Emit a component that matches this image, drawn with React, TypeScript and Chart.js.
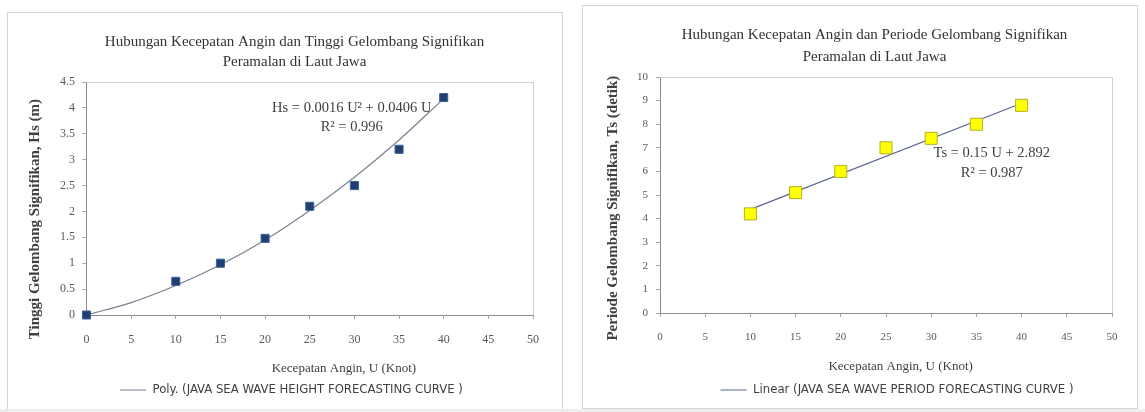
import React, { useEffect, useRef } from "react";
import { Chart, registerables } from "chart.js";

Chart.register(...registerables);

// ---------------- data ----------------
const heightSpeeds = [0, 10, 15, 20, 25, 30, 35, 40];
const heightValues = [0, 0.65, 1.0, 1.48, 2.1, 2.5, 3.2, 4.2];
const heightCurveSpeeds = [0, 5, 10, 15, 20, 25, 30, 35, 40];
const heightCurveValues = [0, 0.24, 0.57, 0.97, 1.45, 2.02, 2.66, 3.38, 4.18];

const periodSpeeds = [10, 15, 20, 25, 30, 35, 40];
const periodValues = [4.2, 5.1, 6.0, 7.0, 7.4, 8.0, 8.8];
const periodLineSpeeds = [10, 40];
const periodLineValues = [4.39, 8.89];

const speedTicks = [0, 5, 10, 15, 20, 25, 30, 35, 40, 45, 50];
const heightTicks = [0, 0.5, 1, 1.5, 2, 2.5, 3, 3.5, 4, 4.5];
const periodTicks = [0, 1, 2, 3, 4, 5, 6, 7, 8, 9, 10];

const heightTitle = ["Hubungan Kecepatan Angin dan Tinggi Gelombang Signifikan", "Peramalan di Laut Jawa"];
const periodTitle = ["Hubungan Kecepatan Angin dan Periode Gelombang Signifikan", "Peramalan di Laut Jawa"];
const speedAxisTitle = "Kecepatan Angin, U (Knot)";
const heightAxisTitle = "Tinggi Gelombang Signifikan, Hs (m)";
const periodAxisTitle = "Periode Gelombang Signifikan, Ts (detik)";
const heightMarkersLabel = "JAVA SEA WAVE HEIGHT FORECASTING CURVE";
const heightTrendLabel = "Poly. (JAVA SEA WAVE HEIGHT FORECASTING CURVE )";
const periodMarkersLabel = "JAVA SEA WAVE PERIOD FORECASTING CURVE";
const periodTrendLabel = "Linear (JAVA SEA WAVE PERIOD FORECASTING CURVE )";
const heightEquation = ["Hs = 0.0016 U² + 0.0406 U", "R² = 0.996"];
const periodEquation = ["Ts = 0.15 U + 2.892", "R² = 0.987"];

// ---------------- styling ----------------
const SERIF = "'Liberation Serif', 'Times New Roman', serif";
const SANS_COND = "'DejaVu Sans Condensed', 'Liberation Sans Narrow', 'DejaVu Sans', sans-serif";

const toPoints = (xs: number[], ys: number[]) => xs.map((x, i) => ({ x, y: ys[i] }));
const sp = (n: number) => " ".repeat(n);

const framePlugin = {
  id: "plotFrame",
  afterDraw(chart: any, _args: any, opts: any) {
    const { ctx, chartArea: a } = chart;
    ctx.save();
    ctx.strokeStyle = opts.color || "#d0d0d0";
    ctx.lineWidth = 1;
    ctx.beginPath();
    ctx.moveTo(a.left, Math.round(a.top) + 0.5);
    ctx.lineTo(Math.round(a.right) + 0.5, Math.round(a.top) + 0.5);
    ctx.lineTo(Math.round(a.right) + 0.5, a.bottom);
    ctx.stroke();
    ctx.restore();
  },
};

const legendShiftPlugin = {
  id: "legendShift",
  afterLayout(chart: any, _args: any, opts: any) {
    const lg = chart.legend;
    if (!lg || !opts || !opts.dx) return;
    lg.left += opts.dx;
    lg.right += opts.dx;
  },
};

const equationPlugin = {
  id: "equationLabel",
  afterDatasetsDraw(chart: any, _args: any, opts: any) {
    if (!opts || !opts.lines) return;
    const { ctx, scales } = chart;
    const x = scales.x.getPixelForValue(opts.at[0]);
    const y = scales.y.getPixelForValue(opts.at[1]);
    ctx.save();
    ctx.font = opts.font;
    ctx.fillStyle = opts.color;
    ctx.textAlign = "center";
    ctx.textBaseline = "middle";
    opts.lines.forEach((line: string, i: number) => ctx.fillText(line, x, y + i * opts.gap));
    ctx.restore();
  },
};

function xScale(tickSize: number, tickPad: number, height: number, titleText: string, titleBottom: number) {
  return {
    type: "linear",
    position: "bottom",
    min: speedTicks[0],
    max: speedTicks[speedTicks.length - 1],
    afterBuildTicks: (s: any) => {
      s.ticks = speedTicks.map((v) => ({ value: v }));
    },
    ticks: {
      font: { family: SERIF, size: tickSize },
      color: "#595959",
      padding: tickPad,
      maxRotation: 0,
      autoSkip: false,
      callback: (v: any) => String(v),
    },
    grid: { display: true, drawOnChartArea: false, drawTicks: true, tickLength: 4, color: "#a6a6a6" },
    border: { display: true, color: "#8c8c8c" },
    title: {
      display: true,
      text: titleText,
      font: { family: SERIF, size: 13 },
      color: "#404040",
      padding: { top: 0, bottom: titleBottom },
    },
    afterFit: (s: any) => {
      s.height = height;
    },
  };
}

function yScale(ticksArr: number[], tickSize: number, tickPad: number, width: number, titleText: string) {
  return {
    type: "linear",
    position: "left",
    min: ticksArr[0],
    max: ticksArr[ticksArr.length - 1],
    afterBuildTicks: (s: any) => {
      s.ticks = ticksArr.map((v) => ({ value: v }));
    },
    ticks: {
      font: { family: SERIF, size: tickSize },
      color: "#595959",
      padding: tickPad,
      autoSkip: false,
      callback: (v: any) => String(v),
    },
    grid: { display: true, drawOnChartArea: false, drawTicks: true, tickLength: 4, color: "#a6a6a6" },
    border: { display: true, color: "#8c8c8c" },
    title: {
      display: true,
      text: titleText,
      font: { family: SERIF, size: 15, weight: "bold", lineHeight: 1.2 },
      color: "#404040",
      padding: { top: 0, bottom: 0 },
    },
    afterFit: (s: any) => {
      s.width = width;
    },
  };
}

function spacerScale(width: number) {
  return {
    type: "linear",
    position: "right",
    display: true,
    grid: { display: false },
    ticks: { display: false },
    border: { display: false },
    afterFit: (s: any) => {
      s.width = width;
    },
  };
}

function heightConfig(): any {
  return {
    type: "scatter",
    data: {
      datasets: [
        {
          label: heightMarkersLabel,
          data: toPoints(heightSpeeds, heightValues),
          pointStyle: "rect",
          pointRadius: 5.7,
          pointHoverRadius: 5.7,
          backgroundColor: "#203f72",
          borderColor: "#3f6096",
          borderWidth: 1,
          showLine: false,
          clip: false,
        },
        {
          label: heightTrendLabel,
          data: toPoints(heightCurveSpeeds, heightCurveValues),
          showLine: true,
          pointRadius: 0,
          pointHoverRadius: 0,
          pointStyle: "line",
          borderColor: "#7a8090",
          backgroundColor: "#7a8090",
          borderWidth: 1.2,
          tension: 0.4,
          cubicInterpolationMode: "monotone",
          fill: false,
        },
      ],
    },
    plugins: [framePlugin, equationPlugin, legendShiftPlugin],
    options: {
      responsive: false,
      animation: false,
      events: [],
      layout: { padding: { left: 26, right: 9, top: 0, bottom: 5.5 } },
      scales: {
        x: xScale(12, 14, 62, sp(21) + speedAxisTitle, 1),
        y: yScale(heightTicks, 12, 7.5, 60.5, heightAxisTitle + sp(11)),
        spacer: spacerScale(30),
      },
      plugins: {
        title: {
          display: true,
          text: heightTitle,
          font: { family: SERIF, size: 15, weight: "normal", lineHeight: 20 / 15 },
          color: "#333333",
          padding: { top: 32, bottom: 10 },
        },
        legend: {
          display: true,
          position: "bottom",
          fullSize: true,
          labels: {
            filter: (item: any) => item.datasetIndex === 1,
            usePointStyle: true,
            pointStyleWidth: 26,
            font: { family: SANS_COND, size: 13 },
            color: "#404040",
            padding: 6.5,
          },
        },
        legendShift: { dx: -3 },
        tooltip: { enabled: false },
        plotFrame: { color: "#d0d0d0" },
        equationLabel: {
          lines: heightEquation,
          at: [29.7, 4.0],
          gap: 19,
          font: `14.5px ${SERIF}`,
          color: "#404040",
        },
      },
    },
  };
}

function periodConfig(): any {
  return {
    type: "scatter",
    data: {
      datasets: [
        {
          label: periodMarkersLabel,
          data: toPoints(periodSpeeds, periodValues),
          pointStyle: "rect",
          pointRadius: 8.5,
          pointHoverRadius: 8.5,
          backgroundColor: "#ffff00",
          borderColor: "#b5b020",
          borderWidth: 1,
          showLine: false,
          clip: false,
        },
        {
          label: periodTrendLabel,
          data: toPoints(periodLineSpeeds, periodLineValues),
          showLine: true,
          pointRadius: 0,
          pointHoverRadius: 0,
          pointStyle: "line",
          borderColor: "#5a6690",
          backgroundColor: "#5a6690",
          borderWidth: 1.2,
          fill: false,
        },
      ],
    },
    plugins: [framePlugin, equationPlugin, legendShiftPlugin],
    options: {
      responsive: false,
      animation: false,
      events: [],
      layout: { padding: { left: 29, right: 0, top: 0, bottom: 5.5 } },
      scales: {
        x: xScale(11, 13.4, 64, sp(9) + speedAxisTitle, 2.2),
        y: yScale(periodTicks, 11, 8, 56, periodAxisTitle + sp(7)),
        spacer: spacerScale(33),
      },
      plugins: {
        title: {
          display: true,
          text: periodTitle,
          font: { family: SERIF, size: 15, weight: "normal", lineHeight: 22 / 15 },
          color: "#333333",
          padding: { top: 24, bottom: 9 },
        },
        legend: {
          display: true,
          position: "bottom",
          fullSize: false,
          labels: {
            filter: (item: any) => item.datasetIndex === 1,
            usePointStyle: true,
            pointStyleWidth: 26,
            font: { family: SANS_COND, size: 13 },
            color: "#404040",
            padding: 6.5,
          },
        },
        legendShift: { dx: 11 },
        tooltip: { enabled: false },
        plotFrame: { color: "#d0d0d0" },
        equationLabel: {
          lines: periodEquation,
          at: [36.7, 6.78],
          gap: 20,
          font: `14.5px ${SERIF}`,
          color: "#404040",
        },
      },
    },
  };
}

function ChartCanvas(props: { make: () => any; left: number; top: number; width: number; height: number }) {
  const ref = useRef<HTMLCanvasElement | null>(null);
  useEffect(() => {
    if (!ref.current) return;
    const chart = new Chart(ref.current, props.make());
    return () => chart.destroy();
  }, []);
  return (
    <canvas
      ref={ref}
      width={props.width}
      height={props.height}
      style={{ position: "absolute", left: props.left, top: props.top, width: props.width, height: props.height }}
    />
  );
}

export default function App() {
  return (
    <div
      style={{
        position: "fixed",
        left: 0,
        top: 0,
        width: 1145,
        height: 412,
        background: "#ffffff",
        overflow: "hidden",
      }}
    >
      <div
        style={{
          position: "absolute",
          left: 7,
          top: 12,
          width: 556,
          height: 400,
          border: "1px solid #d4d4d4",
          boxSizing: "border-box",
        }}
      />
      <div
        style={{
          position: "absolute",
          left: 582,
          top: 5,
          width: 556,
          height: 404,
          border: "1px solid #d4d4d4",
          boxSizing: "border-box",
        }}
      />
      <div style={{ position: "absolute", left: 0, top: 409, width: 1145, height: 3, background: "#eeeeee" }} />
      <ChartCanvas make={heightConfig} left={0} top={0} width={572} height={412} />
      <ChartCanvas make={periodConfig} left={575} top={0} width={570} height={412} />
    </div>
  );
}
